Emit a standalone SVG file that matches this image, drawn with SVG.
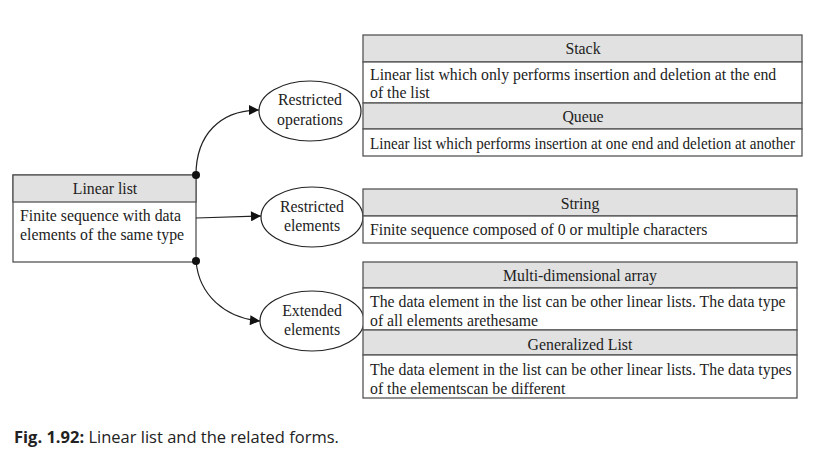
<svg xmlns="http://www.w3.org/2000/svg" width="819" height="461" viewBox="0 0 819 461">
<defs>
<marker id="arr" viewBox="0 0 10 10" refX="10" refY="5" markerWidth="11" markerHeight="10" markerUnits="userSpaceOnUse" orient="auto">
<path d="M0,0 L10,5 L0,10 z" fill="#111"/>
</marker>
<style>
.t{font-family:"Liberation Serif","Times New Roman",serif;font-size:15.8px;fill:#222}
.c{text-anchor:middle}
.hd{fill:#e1e1e1;stroke:#555;stroke-width:1.3}
.bd{fill:#fff;stroke:#555;stroke-width:1.3}
.el{fill:#fff;stroke:#222;stroke-width:1.2}
.cn{fill:none;stroke:#222;stroke-width:1.2}
</style>
</defs>
<rect width="819" height="461" fill="#fff"/>
<g id="linear-list">
<rect class="bd" x="13" y="175" width="183" height="87"/>
<rect class="hd" x="13" y="175" width="183" height="27"/>
<text class="t c" x="105" y="194">Linear list</text>
<text class="t" x="20" y="221">Finite sequence with data</text>
<text class="t" x="20" y="240">elements of the same type</text>
</g>
<g id="restricted-operations">
<ellipse class="el" cx="310" cy="111" rx="51" ry="30"/>
<text class="t c" x="310" y="105">Restricted</text>
<text class="t c" x="310" y="125">operations</text>
</g>
<g id="restricted-elements">
<ellipse class="el" cx="312" cy="217" rx="51" ry="30"/>
<text class="t c" x="312" y="212">Restricted</text>
<text class="t c" x="312" y="231">elements</text>
</g>
<g id="extended-elements">
<ellipse class="el" cx="312" cy="321" rx="52" ry="30"/>
<text class="t c" x="312" y="316">Extended</text>
<text class="t c" x="312" y="335">elements</text>
</g>
<g id="stack-queue">
<rect class="hd" x="363" y="35" width="439" height="27"/>
<rect class="bd" x="363" y="62" width="439" height="41"/>
<rect class="hd" x="363" y="103" width="439" height="26"/>
<rect class="bd" x="363" y="129" width="439" height="27"/>
<text class="t c" x="583" y="54">Stack</text>
<text class="t" x="370" y="80">Linear list which only performs insertion and deletion at the end</text>
<text class="t" x="370" y="98">of the list</text>
<text class="t c" x="583" y="122">Queue</text>
<text class="t" x="370" y="149" textLength="425" lengthAdjust="spacingAndGlyphs">Linear list which performs insertion at one end and deletion at another</text>
</g>
<g id="string">
<rect class="hd" x="363" y="189" width="434" height="27"/>
<rect class="bd" x="363" y="216" width="434" height="27"/>
<text class="t c" x="580" y="209">String</text>
<text class="t" x="370" y="235">Finite sequence composed of 0 or multiple characters</text>
</g>
<g id="array-glist">
<rect class="hd" x="363" y="262" width="434" height="26"/>
<rect class="bd" x="363" y="288" width="434" height="42"/>
<rect class="hd" x="363" y="330" width="434" height="25"/>
<rect class="bd" x="363" y="355" width="434" height="43"/>
<text class="t c" x="580" y="281">Multi-dimensional  array</text>
<text class="t" x="370" y="307">The data element in the list can be other linear lists. The data type</text>
<text class="t" x="370" y="326">of all elements arethesame</text>
<text class="t c" x="580" y="350">Generalized  List</text>
<text class="t" x="370" y="375">The data element in the list can be other linear lists. The data types</text>
<text class="t" x="370" y="394">of the elementscan be different</text>
</g>
<g id="connectors">
<path class="cn" d="M196,175 C196,135 220,110 259,110" marker-end="url(#arr)"/>
<path class="cn" d="M196,218 L261,216" marker-end="url(#arr)"/>
<path class="cn" d="M196,261 C199,295 225,318 260,321" marker-end="url(#arr)"/>
<circle cx="196" cy="175" r="4" fill="#111"/>
<circle cx="196" cy="261" r="4" fill="#111"/>
</g>
<text x="14" y="443" style="font-family:'Open Sans','Noto Sans',sans-serif;font-size:16.5px;fill:#222"><tspan font-weight="bold">Fig. 1.92:</tspan> Linear list and the related forms.</text>
</svg>
